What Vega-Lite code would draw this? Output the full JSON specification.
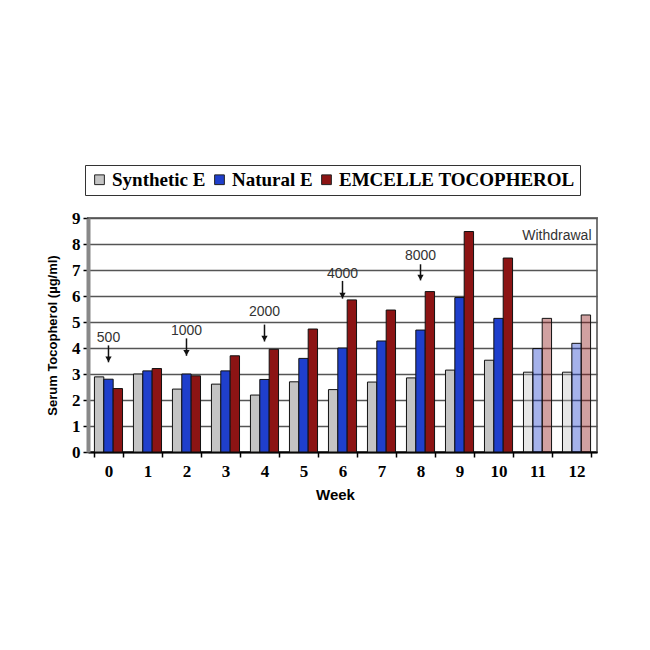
{
  "$schema": "https://vega.github.io/schema/vega-lite/v6.json",
  "width": 509,
  "height": 234,
  "autosize": {"type": "none"},
  "padding": {"left": 88, "top": 218, "right": 53, "bottom": 198},
  "background": "white",
  "config": {
    "view": {"stroke": "#777", "strokeWidth": 2},
    "axis": {"labelColor": "black", "titleColor": "black"},
    "axisX": {
      "titleX": 247,
      "titleFont": "Liberation Sans", "titleFontWeight": "bold", "titleFontSize": 15,
      "titlePadding": 8,
      "labelFont": "Liberation Serif", "labelFontWeight": "bold", "labelFontSize": 17,
      "labelAngle": 0, "labelPadding": 6,
      "tickBand": "extent", "tickSize": 5, "tickColor": "black", "tickWidth": 1.5,
      "domainColor": "black", "domainWidth": 2, "grid": false
    },
    "axisY": {
      "titleFont": "Liberation Sans", "titleFontWeight": "bold", "titleFontSize": 13,
      "titlePadding": 12,
      "labelFont": "Liberation Serif", "labelFontWeight": "bold", "labelFontSize": 17,
      "labelPadding": 3, "labelOverlap": false, "tickCount": 10,
      "tickSize": 5, "tickColor": "black", "tickWidth": 1.5,
      "grid": true, "gridColor": "#555", "gridWidth": 1.6,
      "domainColor": "#888", "domainWidth": 4
    }
  },
  "datasets": {
    "main": [
      {"week": 0, "series": "Synthetic E", "value": 2.89},
      {"week": 0, "series": "Natural E", "value": 2.8},
      {"week": 0, "series": "EMCELLE TOCOPHEROL", "value": 2.44},
      {"week": 1, "series": "Synthetic E", "value": 3.0},
      {"week": 1, "series": "Natural E", "value": 3.12},
      {"week": 1, "series": "EMCELLE TOCOPHEROL", "value": 3.21},
      {"week": 2, "series": "Synthetic E", "value": 2.42},
      {"week": 2, "series": "Natural E", "value": 3.0},
      {"week": 2, "series": "EMCELLE TOCOPHEROL", "value": 2.93},
      {"week": 3, "series": "Synthetic E", "value": 2.61},
      {"week": 3, "series": "Natural E", "value": 3.12},
      {"week": 3, "series": "EMCELLE TOCOPHEROL", "value": 3.7},
      {"week": 4, "series": "Synthetic E", "value": 2.19},
      {"week": 4, "series": "Natural E", "value": 2.79},
      {"week": 4, "series": "EMCELLE TOCOPHEROL", "value": 3.95},
      {"week": 5, "series": "Synthetic E", "value": 2.7},
      {"week": 5, "series": "Natural E", "value": 3.6},
      {"week": 5, "series": "EMCELLE TOCOPHEROL", "value": 4.73},
      {"week": 6, "series": "Synthetic E", "value": 2.4},
      {"week": 6, "series": "Natural E", "value": 4.0},
      {"week": 6, "series": "EMCELLE TOCOPHEROL", "value": 5.85},
      {"week": 7, "series": "Synthetic E", "value": 2.69},
      {"week": 7, "series": "Natural E", "value": 4.27},
      {"week": 7, "series": "EMCELLE TOCOPHEROL", "value": 5.46},
      {"week": 8, "series": "Synthetic E", "value": 2.85},
      {"week": 8, "series": "Natural E", "value": 4.69},
      {"week": 8, "series": "EMCELLE TOCOPHEROL", "value": 6.17},
      {"week": 9, "series": "Synthetic E", "value": 3.15},
      {"week": 9, "series": "Natural E", "value": 5.94},
      {"week": 9, "series": "EMCELLE TOCOPHEROL", "value": 8.48},
      {"week": 10, "series": "Synthetic E", "value": 3.53},
      {"week": 10, "series": "Natural E", "value": 5.14},
      {"week": 10, "series": "EMCELLE TOCOPHEROL", "value": 7.46},
      {"week": 11, "series": "Synthetic E", "value": 3.07},
      {"week": 11, "series": "Natural E", "value": 3.98},
      {"week": 11, "series": "EMCELLE TOCOPHEROL", "value": 5.14},
      {"week": 12, "series": "Synthetic E", "value": 3.07},
      {"week": 12, "series": "Natural E", "value": 4.18},
      {"week": 12, "series": "EMCELLE TOCOPHEROL", "value": 5.27}
    ],
    "notes": [
      {"week": 0, "label": "500", "ty": 4.4, "a1": 4.1, "a2": 3.45},
      {"week": 2, "label": "1000", "ty": 4.67, "a1": 4.37, "a2": 3.7},
      {"week": 4, "label": "2000", "ty": 5.4, "a1": 4.9, "a2": 4.25},
      {"week": 6, "label": "4000", "ty": 6.84, "a1": 6.58, "a2": 5.9},
      {"week": 8, "label": "8000", "ty": 7.55, "a1": 7.22, "a2": 6.6}
    ],
    "withdrawal": [
      {"week": 12, "label": "Withdrawal", "ty": 8.32}
    ]
  },
  "layer": [
    {
      "data": {"name": "main"},
      "mark": {"type": "bar", "stroke": "#111", "strokeWidth": 1},
      "encoding": {
        "x": {
          "field": "week", "type": "ordinal",
          "scale": {"paddingInner": 0.28, "paddingOuter": 0.165},
          "axis": {"title": "Week"}
        },
        "xOffset": {
          "field": "series", "type": "nominal",
          "sort": ["Synthetic E", "Natural E", "EMCELLE TOCOPHEROL"]
        },
        "y": {
          "field": "value", "type": "quantitative",
          "scale": {"domain": [0, 9], "nice": false},
          "axis": {"title": "Serum Tocopherol (µg/ml)", "values": [0, 1, 2, 3, 4, 5, 6, 7, 8, 9]}
        },
        "color": {
          "field": "series", "type": "nominal",
          "sort": ["Synthetic E", "Natural E", "EMCELLE TOCOPHEROL"],
          "scale": {
            "domain": ["Synthetic E", "Natural E", "EMCELLE TOCOPHEROL"],
            "range": ["#c4c4c4", "#1f3fcc", "#8c1414"]
          },
          "legend": {
            "title": null,
            "orient": "none", "legendX": -3, "legendY": -53,
            "direction": "horizontal", "columns": 3,
            "labelFont": "Liberation Serif", "labelFontWeight": "bold", "labelFontSize": 19,
            "labelColor": "black", "labelLimit": 400,
            "symbolType": "square", "symbolSize": 95,
            "symbolStrokeColor": "#222", "symbolStrokeWidth": 1,
            "columnPadding": 4, "labelOffset": 3,
            "strokeColor": "#333", "padding": 5,
            "fillColor": "white"
          }
        },
        "fillOpacity": {
          "condition": {"test": "datum.week >= 11", "value": 0.4},
          "value": 1
        }
      }
    },
    {
      "data": {"name": "notes"},
      "mark": {"type": "text", "font": "Liberation Sans", "fontSize": 14, "color": "#333", "baseline": "middle"},
      "encoding": {
        "x": {"field": "week", "type": "ordinal", "axis": {"title": "Week"}},
        "y": {"field": "ty", "type": "quantitative", "axis": {"title": "Serum Tocopherol (µg/ml)", "values": [0, 1, 2, 3, 4, 5, 6, 7, 8, 9]}},
        "text": {"field": "label"}
      }
    },
    {
      "data": {"name": "notes"},
      "mark": {"type": "rule", "color": "#111", "strokeWidth": 1.5},
      "encoding": {
        "x": {"field": "week", "type": "ordinal", "axis": {"title": "Week"}},
        "y": {"field": "a1", "type": "quantitative", "axis": {"title": "Serum Tocopherol (µg/ml)", "values": [0, 1, 2, 3, 4, 5, 6, 7, 8, 9]}},
        "y2": {"field": "a2"}
      }
    },
    {
      "data": {"name": "notes"},
      "mark": {"type": "point", "shape": "triangle-down", "filled": true, "color": "#111", "size": 40, "opacity": 1, "yOffset": -3},
      "encoding": {
        "x": {"field": "week", "type": "ordinal", "axis": {"title": "Week"}},
        "y": {"field": "a2", "type": "quantitative", "axis": {"title": "Serum Tocopherol (µg/ml)", "values": [0, 1, 2, 3, 4, 5, 6, 7, 8, 9]}}
      }
    },
    {
      "data": {"name": "withdrawal"},
      "mark": {"type": "text", "font": "Liberation Sans", "fontSize": 14, "color": "#333", "align": "right", "baseline": "middle", "dx": 15},
      "encoding": {
        "x": {"field": "week", "type": "ordinal", "axis": {"title": "Week"}},
        "y": {"field": "ty", "type": "quantitative", "axis": {"title": "Serum Tocopherol (µg/ml)", "values": [0, 1, 2, 3, 4, 5, 6, 7, 8, 9]}},
        "text": {"field": "label"}
      }
    }
  ]
}
